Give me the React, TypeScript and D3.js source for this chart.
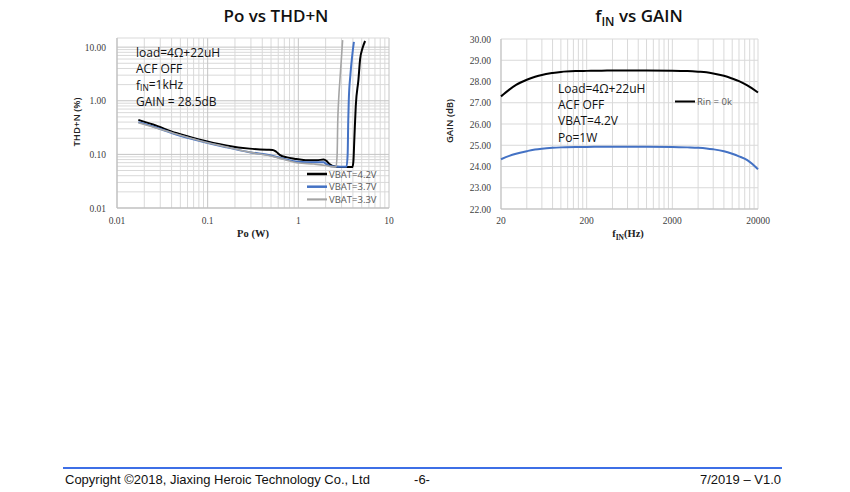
import React from "react";
import * as d3 from "d3";

// ---------- Left chart data: Po (W) vs THD+N (%) ----------
const po42 = [0.0172, 0.025, 0.045, 0.08, 0.16, 0.29, 0.45, 0.52, 0.57, 0.63, 0.75, 0.9, 1.2, 1.6, 1.9, 2.05, 2.2, 2.6, 3.2, 3.95, 4.05, 4.15, 4.3, 4.6, 4.8, 5.1, 5.45];
const thd42 = [0.44, 0.36, 0.25, 0.19, 0.147, 0.128, 0.122, 0.121, 0.112, 0.097, 0.088, 0.083, 0.078, 0.078, 0.08, 0.075, 0.066, 0.059, 0.058, 0.058, 0.075, 0.2, 0.8, 2.46, 5.9, 9.5, 13];
const po37 = [0.0172, 0.025, 0.045, 0.08, 0.16, 0.29, 0.5, 0.7, 1.0, 1.5, 1.9, 2.05, 2.3, 2.8, 3.4, 3.5, 3.55, 3.6, 3.75, 3.95, 4.1];
const thd37 = [0.40, 0.33, 0.235, 0.18, 0.136, 0.11, 0.095, 0.082, 0.073, 0.071, 0.071, 0.065, 0.06, 0.059, 0.059, 0.1, 0.4, 1.0, 3.0, 7.5, 12.5];
const po33 = [0.0172, 0.025, 0.045, 0.08, 0.16, 0.29, 0.5, 0.7, 1.0, 1.5, 2.0, 2.3, 2.6, 2.68, 2.72, 2.78, 2.9, 3.0, 3.08];
const thd33 = [0.39, 0.325, 0.24, 0.182, 0.138, 0.11, 0.093, 0.08, 0.069, 0.066, 0.062, 0.059, 0.058, 0.1, 0.4, 1.0, 3.0, 7.0, 13.5];
const leftSeriesNames = ["VBAT=4.2V", "VBAT=3.7V", "VBAT=3.3V"];
const leftXTicks = [0.01, 0.1, 1, 10];
const leftYTicks = [0.01, 0.1, 1, 10];
const leftNotes = ["load=4Ω+22uH", "ACF OFF", "f|IN|=1kHz", "GAIN = 28.5dB"];

// ---------- Right chart data: fIN (Hz) vs GAIN (dB) ----------
const freqs = [20, 25, 30, 40, 50, 60, 80, 100, 150, 200, 300, 500, 1000, 2000, 3000, 4000, 5000, 6000, 8000, 10000, 12000, 15000, 20000];
const gainRin0 = [27.3, 27.62, 27.84, 28.08, 28.22, 28.31, 28.4, 28.45, 28.49, 28.5, 28.51, 28.52, 28.52, 28.51, 28.49, 28.46, 28.43, 28.38, 28.27, 28.14, 28.02, 27.82, 27.48];
const gainVbat = [24.34, 24.5, 24.6, 24.72, 24.8, 24.84, 24.88, 24.9, 24.92, 24.92, 24.93, 24.93, 24.93, 24.92, 24.9, 24.88, 24.85, 24.81, 24.72, 24.6, 24.48, 24.3, 23.87];
const rightXTicks = [20, 200, 2000, 20000];
const rightYTicks = [22, 23, 24, 25, 26, 27, 28, 29, 30];
const rightNotes = ["Load=4Ω+22uH", "ACF OFF", "VBAT=4.2V", "Po=1W"];
const rightLegend = "Rin = 0k";

const SANS = "'Open Sans', 'Noto Sans', sans-serif";
const SERIF = "'Liberation Serif', 'DejaVu Serif', serif";
const FOOT = "'Liberation Sans', Arial, sans-serif";
const GRID = "#d9d9d9";
const TICK = "#404040";

function minorLog(base: number, decades: number): number[] {
  const out: number[] = [];
  for (let d = 0; d < decades; d++) {
    const b = base * Math.pow(10, d);
    for (let m = 2; m <= 9; m++) out.push(b * m);
  }
  return out;
}

function Sub({ text }: { text: string }) {
  const parts = text.split("|");
  if (parts.length === 1) return <>{text}</>;
  return (
    <>
      {parts[0]}
      <tspan fontSize="0.7em" dy="0.22em">{parts[1]}</tspan>
      <tspan dy="-0.22em">{parts[2]}</tspan>
    </>
  );
}

function LeftChart() {
  const x = d3.scaleLog().domain([0.01, 10]).range([117, 389]);
  const y = d3.scaleLog().domain([0.01, 14.8]).range([208, 38]);
  const line = d3
    .line<[number, number]>()
    .x((d) => x(d[0]))
    .y((d) => y(d[1]))
    .curve(d3.curveMonotoneX);
  const series = [
    { name: leftSeriesNames[0], po: po42, thd: thd42, color: "#000000", w: 2 },
    { name: leftSeriesNames[1], po: po37, thd: thd37, color: "#4472c4", w: 2 },
    { name: leftSeriesNames[2], po: po33, thd: thd33, color: "#a5a5a5", w: 1.6 },
  ];
  const xMinor = minorLog(0.01, 3);
  const yMinor = minorLog(0.01, 3);
  const [x0, x1] = x.range();
  const [y0, y1] = y.range();
  return (
    <g>
      <text x={276} y={22} textAnchor="middle" fontFamily={SANS} fontSize={17} fontWeight={600} fill="#111">
        Po vs THD+N
      </text>
      {xMinor.map((v) => (
        <line key={"xm" + v} x1={x(v)} x2={x(v)} y1={y1} y2={y0} stroke={GRID} strokeWidth={1} />
      ))}
      {yMinor.map((v) => (
        <line key={"ym" + v} x1={x0} x2={x1} y1={y(v)} y2={y(v)} stroke={GRID} strokeWidth={1} />
      ))}
      {leftXTicks.map((v) => (
        <line key={"xM" + v} x1={x(v)} x2={x(v)} y1={y1} y2={y0} stroke="#c4c4c4" strokeWidth={1} />
      ))}
      {leftYTicks.map((v) => (
        <line key={"yM" + v} x1={x0} x2={x1} y1={y(v)} y2={y(v)} stroke="#c4c4c4" strokeWidth={1} />
      ))}
      <line x1={x0} x2={x1} y1={y1} y2={y1} stroke={GRID} />
      <line x1={x0} x2={x0} y1={y1} y2={y0} stroke="#bfbfbf" />
      <line x1={x0} x2={x1} y1={y0} y2={y0} stroke="#bfbfbf" />
      {leftYTicks.map((v) => (
        <text key={"yl" + v} x={106} y={y(v) + 3.5} textAnchor="end" fontFamily={SERIF} fontSize={9.5} fill={TICK}>
          {v.toFixed(2)}
        </text>
      ))}
      {leftXTicks.map((v) => (
        <text key={"xl" + v} x={x(v)} y={224} textAnchor="middle" fontFamily={SERIF} fontSize={9.5} fill={TICK}>
          {String(v)}
        </text>
      ))}
      <text x={253} y={237} textAnchor="middle" fontFamily={SERIF} fontSize={10.5} fontWeight="bold" fill="#222">
        Po (W)
      </text>
      <text
        transform="translate(80,122) rotate(-90)"
        textAnchor="middle"
        fontFamily={SANS}
        fontSize={9.5}
        fontWeight={600}
        fill="#222"
      >
        THD+N (%)
      </text>
      {leftNotes.map((t, i) => (
        <text key={t} x={136} y={57 + i * 16.3} fontFamily={SANS} fontSize={12} fill="#111">
          <Sub text={t} />
        </text>
      ))}
      {series.map((s) => (
        <path
          key={s.name}
          d={line(s.po.map((p, i) => [p, s.thd[i]] as [number, number])) || ""}
          fill="none"
          stroke={s.color}
          strokeWidth={s.w}
        />
      ))}
      {series.map((s, i) => (
        <g key={"lg" + s.name}>
          <line x1={307} x2={327} y1={174 + i * 12.7} y2={174 + i * 12.7} stroke={s.color} strokeWidth={s.w + 0.5} />
          <text x={329} y={174 + i * 12.7 + 3.5} fontFamily={SANS} fontSize={9.5} fill="#595959">
            {s.name}
          </text>
        </g>
      ))}
    </g>
  );
}

function RightChart() {
  const x = d3.scaleLog().domain([20, 20000]).range([501, 758]);
  const y = d3.scaleLinear().domain([22, 30]).range([209, 39]);
  const line = d3
    .line<[number, number]>()
    .x((d) => x(d[0]))
    .y((d) => y(d[1]))
    .curve(d3.curveMonotoneX);
  const xMinor = minorLog(20, 3);
  const [x0, x1] = x.range();
  const [y0, y1] = y.range();
  return (
    <g>
      <text x={639} y={22} textAnchor="middle" fontFamily={SANS} fontSize={17} fontWeight={600} fill="#111">
        f<tspan fontSize={12} dy={4}>IN</tspan>
        <tspan dy={-4}> vs GAIN</tspan>
      </text>
      {xMinor.map((v) => (
        <line key={"xm" + v} x1={x(v)} x2={x(v)} y1={y1} y2={y0} stroke={GRID} />
      ))}
      {rightXTicks.map((v) => (
        <line key={"xM" + v} x1={x(v)} x2={x(v)} y1={y1} y2={y0} stroke={GRID} />
      ))}
      {rightYTicks.map((v) => (
        <line key={"yM" + v} x1={x0} x2={x1} y1={y(v)} y2={y(v)} stroke={GRID} />
      ))}
      <line x1={x0} x2={x0} y1={y1} y2={y0} stroke="#bfbfbf" />
      <line x1={x0} x2={x1} y1={y0} y2={y0} stroke="#bfbfbf" />
      {rightYTicks.map((v) => (
        <text key={"yl" + v} x={491} y={y(v) + 3.5} textAnchor="end" fontFamily={SERIF} fontSize={9.5} fill={TICK}>
          {v.toFixed(2)}
        </text>
      ))}
      {rightXTicks.map((v) => (
        <text key={"xl" + v} x={x(v)} y={224} textAnchor="middle" fontFamily={SERIF} fontSize={9.5} fill={TICK}>
          {String(v)}
        </text>
      ))}
      <text x={628} y={237} textAnchor="middle" fontFamily={SERIF} fontSize={10.5} fontWeight="bold" fill="#222">
        f<tspan fontSize={7.5} dy={3}>IN</tspan>
        <tspan dy={-3}>(Hz)</tspan>
      </text>
      <text
        transform="translate(453,121) rotate(-90)"
        textAnchor="middle"
        fontFamily={SANS}
        fontSize={9.5}
        fontWeight={600}
        fill="#222"
      >
        GAIN (dB)
      </text>
      <path
        d={line(freqs.map((f, i) => [f, gainRin0[i]] as [number, number])) || ""}
        fill="none"
        stroke="#000"
        strokeWidth={2}
      />
      <path
        d={line(freqs.map((f, i) => [f, gainVbat[i]] as [number, number])) || ""}
        fill="none"
        stroke="#4472c4"
        strokeWidth={2}
      />
      {rightNotes.map((t, i) => (
        <text key={t} x={558} y={92.5 + i * 16.4} fontFamily={SANS} fontSize={12} fill="#111">
          {t}
        </text>
      ))}
      <line x1={675} x2={695} y1={101.5} y2={101.5} stroke="#000" strokeWidth={2} />
      <text x={697} y={105} fontFamily={SANS} fontSize={9.5} fill="#595959">
        {rightLegend}
      </text>
    </g>
  );
}

export default function App() {
  return (
    <svg
      width={850}
      height={492}
      viewBox="0 0 850 492"
      style={{ position: "absolute", left: 0, top: 0, background: "#fff" }}
    >
      <rect x={0} y={0} width={850} height={492} fill="#fff" />
      <LeftChart />
      <RightChart />
      <line x1={63} x2={782} y1={468} y2={468} stroke="#3e6fe6" strokeWidth={2} />
      <text x={65} y={484} fontFamily={FOOT} fontSize={13} fill="#111">
        Copyright ©2018, Jiaxing Heroic Technology Co., Ltd
      </text>
      <text x={422} y={484} textAnchor="middle" fontFamily={FOOT} fontSize={13} fill="#111">
        -6-
      </text>
      <text x={781} y={484} textAnchor="end" fontFamily={FOOT} fontSize={13} fill="#111">
        7/2019 – V1.0
      </text>
    </svg>
  );
}
